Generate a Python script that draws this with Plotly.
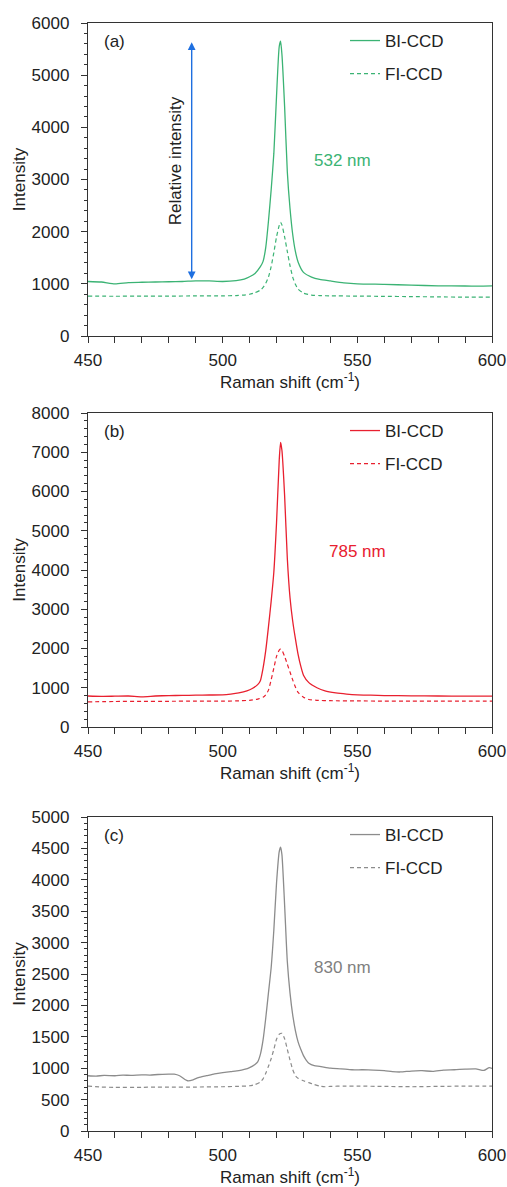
import plotly.graph_objects as go

# ---------------- data ----------------
# (a) 532 nm
x_a_bi = [450, 455, 460, 465, 470, 475, 480, 485, 490, 495, 500, 505, 508, 510, 512, 514, 515, 516, 517, 518, 519,
          520, 521, 521.5, 522, 523, 524, 525, 526, 527, 528, 530, 533, 536, 540, 545, 550, 560, 570, 580, 590, 595, 600]
y_a_bi = [1045, 1035, 1000, 1025, 1030, 1035, 1040, 1045, 1058, 1055, 1045, 1060, 1090, 1135, 1200, 1330, 1430, 1700, 2200,
          2800, 3500, 4600, 5550, 5650, 5400, 4400, 3150, 2450, 1950, 1620, 1420, 1220, 1130, 1085, 1055, 1020, 1000,
          990, 975, 962, 958, 955, 960]
x_a_fi = [450, 460, 470, 480, 490, 500, 505, 508, 510, 512, 514, 515, 516, 517, 518, 519, 520, 521, 521.5, 522, 523,
          524, 525, 526, 527, 528, 530, 533, 536, 540, 550, 560, 570, 580, 590, 600]
y_a_fi = [765, 762, 765, 765, 768, 770, 775, 785, 800, 830, 880, 930, 1010, 1130, 1330, 1600, 1900, 2120, 2180, 2130,
          1900, 1620, 1350, 1130, 990, 900, 820, 785, 775, 770, 765, 760, 755, 750, 745, 745]

# (b) 785 nm
x_b_bi = [450, 455, 460, 465, 470, 475, 480, 485, 490, 495, 500, 503, 506, 509, 511, 513, 514, 515, 516, 517, 518, 519,
          520, 521, 521.5, 522, 523, 524, 525, 526, 527, 528, 529, 530, 532, 535, 538, 542, 546, 550, 555, 560, 570,
          580, 590, 600]
y_b_bi = [790, 780, 785, 790, 770, 790, 800, 805, 810, 815, 820, 840, 870, 920, 980, 1080, 1180, 1500, 1950, 2550,
          3200, 3950, 5200, 6800, 7250, 7050, 5900, 4300, 3300, 2700, 2250, 1850, 1550, 1320, 1130, 1000, 920, 870,
          840, 820, 810, 800, 795, 790, 785, 785]
x_b_fi = [450, 460, 470, 480, 490, 500, 505, 510, 513, 515, 516, 517, 518, 519, 520, 521, 521.5, 522, 523, 524, 525,
          526, 527, 528, 530, 532, 535, 540, 550, 560, 570, 580, 590, 600]
y_b_fi = [640, 650, 655, 655, 660, 660, 665, 680, 710, 760, 820, 940, 1200, 1500, 1800, 1960, 1985, 1960, 1800, 1600,
          1400, 1200, 1020, 880, 760, 700, 680, 670, 665, 660, 660, 660, 660, 660]

# (c) 830 nm
x_c_bi = [450, 453, 456, 460, 463, 466, 470, 473, 476, 480, 482, 484, 486, 487, 489, 491, 494, 497, 500, 503, 506, 508,
          510, 512, 513, 514, 515, 516, 517, 518, 519, 520, 521, 521.5, 522, 523, 524, 525, 526, 527, 528, 529, 530,
          531, 532, 534, 536, 540, 544, 548, 552, 556, 560, 563, 566, 570, 574, 578, 582, 586, 590, 594, 597, 599, 600]
y_c_bi = [880, 875, 885, 880, 890, 885, 895, 890, 900, 905, 905, 880, 820, 800, 815, 850, 880, 910, 930, 945, 960, 980,
          1010, 1060, 1100, 1220, 1450, 1800, 2200, 2600, 3200, 3950, 4450, 4520, 4400, 3600, 2700, 2200, 1850, 1600,
          1420, 1300, 1200, 1130, 1080, 1040, 1030, 1000, 990, 975, 975, 970, 960, 945, 940, 955, 960, 950, 970, 975,
          985, 990, 965, 1010, 995]
x_c_fi = [450, 455, 460, 470, 475, 480, 490, 500, 505, 510, 512, 514, 515, 516, 517, 518, 519, 520, 521, 522, 523, 524,
          525, 526, 527, 528, 530, 532, 534, 536, 538, 540, 545, 550, 560, 570, 580, 590, 600]
y_c_fi = [715, 700, 695, 695, 700, 700, 700, 705, 710, 720, 740, 780, 830, 920, 1030, 1150, 1300, 1460, 1540, 1555,
          1470, 1300, 1130, 980, 880, 840, 800, 770, 740, 715, 705, 710, 715, 715, 710, 705, 710, 715, 715]

panel_labels = ["(a)", "(b)", "(c)"]
wavelengths = ["532 nm", "785 nm", "830 nm"]
wl_x = [544.5, 550, 544.5]
wl_y = [3370, 4480, 2610]
y_ranges = [[0, 6000], [0, 8000], [0, 5000]]
y_dticks = [1000, 1000, 500]
y_minor = [200, 200, 100]
x_ticks = [450, 500, 550, 600]
arrow_x = 488.5
arrow_y = [1090, 5660]
rel_label_x, rel_label_y = 482.3, 3370

# ---------------- style ----------------
colors = ["#3BB374", "#E8202F", "#8C8C8C"]
text_colors = ["#3BB374", "#E8202F", "#808080"]
FONT = "Liberation Sans, Arial, sans-serif"
FS = 17
AX = "#333333"
TXT = "#222222"
W, H = 507, 1187
L, R = 88, 15
plot_w = W - L - R
panel_px = [(23, 336), (413, 727), (817, 1131)]  # top, bottom in px

fig = go.Figure()
series = [(x_a_bi, y_a_bi, x_a_fi, y_a_fi), (x_b_bi, y_b_bi, x_b_fi, y_b_fi), (x_c_bi, y_c_bi, x_c_fi, y_c_fi)]

for i, (xb, yb, xf, yf) in enumerate(series):
    sfx = "" if i == 0 else str(i + 1)
    leg = "legend" if i == 0 else f"legend{i + 1}"
    fig.add_trace(go.Scatter(x=xb, y=yb, mode="lines", name="BI-CCD", xaxis="x" + sfx, yaxis="y" + sfx,
                             line=dict(color=colors[i], width=1.3, shape="spline", smoothing=0.6),
                             legend=leg, legendgroup=f"bi{i}"))
    fig.add_trace(go.Scatter(x=xf, y=yf, mode="lines", name="FI-CCD", xaxis="x" + sfx, yaxis="y" + sfx,
                             line=dict(color=colors[i], width=1.2, dash="4px,3px", shape="spline", smoothing=0.6),
                             legend=leg, legendgroup=f"fi{i}"))

layout = dict(template="none", width=W, height=H, margin=dict(l=L, r=R, t=0, b=0, autoexpand=False),
              plot_bgcolor="white", paper_bgcolor="white", hovermode=False,
              font=dict(family=FONT, size=FS, color=TXT), annotations=[])

for i in range(3):
    sfx = "" if i == 0 else str(i + 1)
    top, bot = panel_px[i]
    dom = [1 - bot / H, 1 - top / H]
    layout["xaxis" + sfx] = dict(
        domain=[0, 1], anchor="y" + sfx, range=[450, 600], tickvals=x_ticks, automargin=False,
        showline=True, mirror=True, linecolor=AX, linewidth=1.3, ticks="outside", ticklen=6, tickcolor=AX,
        tickwidth=1.2, showgrid=False, zeroline=False, ticklabelstandoff=2,
        minor=dict(dtick=10, tick0=450, ticks="outside", ticklen=6, tickcolor=AX, tickwidth=1.2, showgrid=False),
        title=dict(text="Raman shift (cm<sup>-1</sup>)", standoff=5, font=dict(size=FS)),
        tickfont=dict(size=FS))
    layout["yaxis" + sfx] = dict(
        domain=dom, anchor="x" + sfx, range=y_ranges[i], dtick=y_dticks[i], tick0=0, automargin=False,
        showline=True, mirror=True, linecolor=AX, linewidth=1.3, ticks="outside", ticklen=6, tickcolor=AX,
        tickwidth=1.2, showgrid=False, zeroline=False, ticklabelstandoff=8,
        minor=dict(dtick=y_minor[i], ticks="outside", ticklen=3, tickcolor=AX, tickwidth=1, showgrid=False),
        title=dict(text="Intensity", standoff=1, font=dict(size=FS)),
        tickfont=dict(size=FS))
    leg = "legend" if i == 0 else f"legend{i + 1}"
    layout[leg] = dict(x=(345 - L) / plot_w, y=1 - (top + 0) / H, xanchor="left", yanchor="top",
                       bgcolor="rgba(0,0,0,0)", font=dict(size=FS, color=TXT),
                       traceorder="grouped", tracegroupgap=8)
    layout["annotations"].append(dict(text=panel_labels[i], xref="x" + sfx + " domain", yref="y" + sfx + " domain",
                                      x=0.035, y=1 - 18 / (bot - top), xanchor="left", yanchor="middle",
                                      showarrow=False, font=dict(size=FS, color=TXT)))
    layout["annotations"].append(dict(text=wavelengths[i], x=wl_x[i], y=wl_y[i], xref="x" + sfx,
                                      yref="y" + sfx, showarrow=False, xanchor="center", yanchor="middle",
                                      font=dict(size=FS, color=text_colors[i])))

# double-headed arrow + label in panel (a)
layout["annotations"].append(dict(x=arrow_x, y=arrow_y[0], ax=arrow_x, ay=arrow_y[1], xref="x", yref="y",
                                  axref="x", ayref="y", text="", showarrow=True, arrowhead=2, startarrowhead=2,
                                  arrowside="end+start", arrowsize=1.1, startarrowsize=1.1, arrowwidth=1.4,
                                  arrowcolor="#1E6FE0"))
layout["annotations"].append(dict(text="Relative intensity", x=rel_label_x, y=rel_label_y, xref="x", yref="y",
                                  showarrow=False, textangle=-90, font=dict(size=FS, color=TXT)))

fig.update_layout(**layout)
fig.write_html("out.html", config={"displayModeBar": False},
               post_script="document.body.style.margin='0';")
